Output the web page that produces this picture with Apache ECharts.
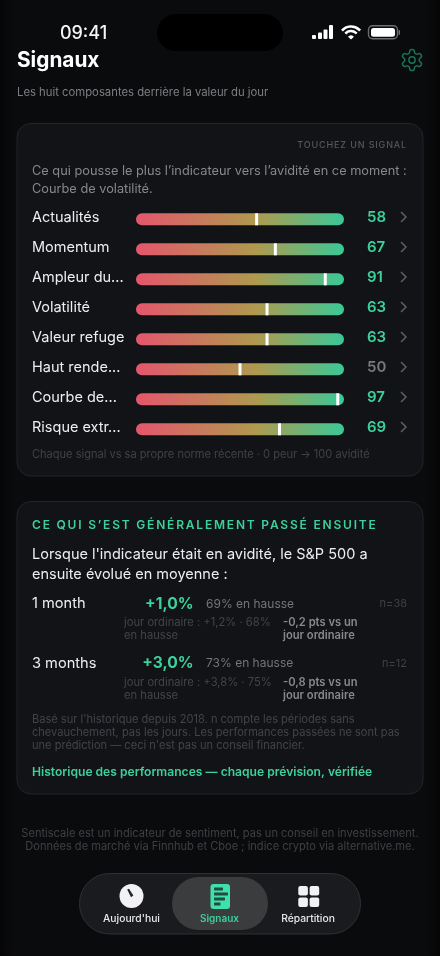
<!DOCTYPE html>
<html lang="fr">
<head>
<meta charset="utf-8">
<title>Signaux</title>
<style>html,body{margin:0;padding:0;background:#0b0c0f}#c{width:440px;height:956px}</style>
<script src="https://cdn.jsdelivr.net/npm/echarts@6/dist/echarts.min.js"></script>
</head>
<body>
<div id="c"></div>
<script>
// ---- data ----
const signalNames = ['Actualités','Momentum','Ampleur du...','Volatilité','Valeur refuge','Haut rende...','Courbe de...','Risque extr...'];
const signalValues = [58,67,91,63,63,50,97,69];
const scaleFull = [100,100,100,100,100,100,100,100];
const horizons = ['1 month','3 months'];
const avgReturns = ['+1,0%','+3,0%'];
const upShares = ['69% en hausse','73% en hausse'];
const sampleSizes = ['n=38','n=12'];
const ordinaryDays = ['jour ordinaire : +1,2% · 68%','jour ordinaire : +3,8% · 75%'];
const deltas = ['-0,2 pts vs un','-0,8 pts vs un'];

const GREEN = '#3dd09b';
const FONT = 'Inter, "Noto Sans", sans-serif';

// letter-spaced captions (canvas property, not supported by the text style)
const spaced = {'TOUCHEZ UN SIGNAL':'0.85px','CE QUI S’EST GÉNÉRALEMENT PASSÉ ENSUITE':'1.8px'};
const ft = CanvasRenderingContext2D.prototype.fillText;
CanvasRenderingContext2D.prototype.fillText = function(t,x,y,m){
  const s = spaced[t];
  if(s){ this.letterSpacing = s; ft.call(this,t,x,y); this.letterSpacing='0px'; return; }
  return m===undefined ? ft.call(this,t,x,y) : ft.call(this,t,x,y,m);
};

function T(text,x,y,size,fill,weight,align){
  return {type:'text',z:1,silent:true,style:{text,x,y:y+1,fill,align:align||'left',verticalAlign:'middle',
    textAlign:align||'left',textVerticalAlign:'middle',
    font:(weight||400)+' '+size+'px '+FONT}};
}
function R(x,y,w,h,r,fill,stroke,z){
  return {type:'rect',z:z===undefined?0:z,silent:true,shape:{x,y,width:w,height:h,r},style:{fill,stroke:stroke||null,lineWidth:stroke?1:0}};
}
echarts.graphic.registerShape('gearIcon', echarts.graphic.extendPath(
 'M12.22 2h-.44a2 2 0 0 0-2 2v.18a2 2 0 0 1-1 1.73l-.43.25a2 2 0 0 1-2 0l-.15-.08a2 2 0 0 0-2.73.73l-.22.38a2 2 0 0 0 .73 2.73l.15.1a2 2 0 0 1 1 1.72v.51a2 2 0 0 1-1 1.74l-.15.09a2 2 0 0 0-.73 2.73l.22.38a2 2 0 0 0 2.73.73l.15-.08a2 2 0 0 1 2 0l.43.25a2 2 0 0 1 1 1.73V20a2 2 0 0 0 2 2h.44a2 2 0 0 0 2-2v-.18a2 2 0 0 1 1-1.73l.43-.25a2 2 0 0 1 2 0l.15.08a2 2 0 0 0 2.73-.73l.22-.39a2 2 0 0 0-.73-2.73l-.15-.08a2 2 0 0 1-1-1.74v-.5a2 2 0 0 1 1-1.74l.15-.09a2 2 0 0 0 .73-2.73l-.22-.38a2 2 0 0 0-2.73-.73l-.15.08a2 2 0 0 1-2 0l-.43-.25a2 2 0 0 1-1-1.73V4a2 2 0 0 0-2-2zM15 12a3 3 0 1 1-6 0a3 3 0 1 1 6 0z', {}));

const g = [];
// page background with darker side edges
g.push({type:'rect',z:-1,silent:true,shape:{x:0,y:0,width:440,height:956},style:{fill:new echarts.graphic.LinearGradient(0,0,1,0,[
  {offset:0,color:'#050506'},{offset:.03,color:'#0a0b0d'},{offset:.97,color:'#0a0b0d'},{offset:1,color:'#050506'}])}});

// status bar
g.push(T('09:41',83.5,32.5,18,'#f5f5f5',500,'center'));
g.push(R(157,14,126,37,18.5,'#000000'));
[[312,4],[318,6.5],[323.5,9.5],[329,14]].forEach(b=>g.push(R(b[0],39-b[1],4,b[1],1,'#ffffff')));
g.push({type:'arc',z:1,silent:true,shape:{cx:351,cy:38.5,r:12,startAngle:-Math.PI*0.77,endAngle:-Math.PI*0.23},style:{stroke:'#fff',lineWidth:2.6,fill:null}});
g.push({type:'arc',z:1,silent:true,shape:{cx:351,cy:38.5,r:7.5,startAngle:-Math.PI*0.77,endAngle:-Math.PI*0.23},style:{stroke:'#fff',lineWidth:2.6,fill:null}});
g.push({type:'sector',z:1,silent:true,shape:{cx:351,cy:39.5,r:4,r0:0,startAngle:-Math.PI*0.77,endAngle:-Math.PI*0.23},style:{fill:'#fff'}});
g.push({type:'rect',z:1,silent:true,shape:{x:368.5,y:25.8,width:29,height:13,r:4},style:{fill:null,stroke:'#6d6e70',lineWidth:1.4}});
g.push(R(371,28,24,8.8,2.5,'#ffffff',null,1));
g.push(R(398.6,30,1.4,5,.7,'#6d6e70',null,1));

// header
g.push(T('Signaux',17,60,20.8,'#ffffff',700));
g.push(T('Les huit composantes derrière la valeur du jour',17,91.5,11.3,'#7d7f84',400));
g.push({type:'gearIcon',z:1,silent:true,x:399.4,y:47.4,scaleX:1.05,scaleY:1.05,style:{fill:null,stroke:'#1c7257',lineWidth:1.4}});

// card 1
g.push(R(17,123.5,406,352.5,14,'#121317','#23252a'));
g.push(T('TOUCHEZ UN SIGNAL',407,144,9,'#55575c',500,'right'));
g.push(T('Ce qui pousse le plus l’indicateur vers l’avidité en ce moment :',32,170,12.78,'#86888c'));
g.push(T('Courbe de volatilité.',32,188,12.78,'#86888c'));
g.push(T('Chaque signal vs sa propre norme récente · 0 peur → 100 avidité',32,454,11.05,'#404246'));
// chevrons
for(let i=0;i<signalNames.length;i++){
  const yc=217+30*i;
  g.push({type:'polyline',z:1,silent:true,shape:{points:[[401,yc-5],[406,yc],[401,yc+5]]},style:{fill:null,stroke:'#5c5e62',lineWidth:1.5}});
}

// card 2
g.push(R(17,501.5,406,292.5,14,'#121317','#23252a'));
g.push(T('CE QUI S’EST GÉNÉRALEMENT PASSÉ ENSUITE',32,524,12,GREEN,600));
g.push(T('Lorsque l\'indicateur était en avidité, le S&P 500 a',32,554,14.5,'#eeeeee'));
g.push(T('ensuite évolué en moyenne :',32,574,14.5,'#eeeeee'));
horizons.forEach((h,i)=>{
  const o=59.3*i;
  g.push(T(h,32,603+o,14.6,'#eeeeee'));
  g.push(T(avgReturns[i],193.5,603+o,15.6,GREEN,700,'right'));
  g.push(T(upShares[i],206,603+o,12,'#737578'));
  g.push(T(sampleSizes[i],407,603+o,11,'#3e4044',400,'right'));
  g.push(T(ordinaryDays[i],124,622+o,11.2,'#424448'));
  g.push(T('en hausse',124,635+o,11.2,'#424448'));
  g.push(T(deltas[i],283,622+o,11.2,'#86888c',600));
  g.push(T('jour ordinaire',283,635+o,11.2,'#86888c',600));
});
g.push(T('Basé sur l\'historique depuis 2018. n compte les périodes sans',32,719,11.07,'#424448'));
g.push(T('chevauchement, pas les jours. Les performances passées ne sont pas',32,732,11.07,'#424448'));
g.push(T('une prédiction — ceci n\'est pas un conseil financier.',32,745,11.07,'#424448'));
g.push(T('Historique des performances — chaque prévision, vérifiée',32,771,12.1,GREEN,600));

// footer
g.push(T('Sentiscale est un indicateur de sentiment, pas un conseil en investissement.',220,833,11.07,'#3e4044',400,'center'));
g.push(T('Données de marché via Finnhub et Cboe ; indice crypto via alternative.me.',220,846,11.07,'#3e4044',400,'center'));

// tab bar
g.push(R(79.5,873.5,281,60.5,30,'#1a1b1e','#2f3033'));
g.push(R(172,877,96,53,26.5,'#3b3c3e',null,0));
g.push({type:'circle',z:1,silent:true,shape:{cx:131.5,cy:896,r:12},style:{fill:'#f2f2f4'}});
g.push({type:'polygon',z:1,silent:true,shape:{points:[[127.2,889.6],[129,888.8],[133.4,895.6],[131,897.2]]},style:{fill:'#24252a'}});
g.push(R(210.5,884,19.5,25,3,'#3fe0aa',null,1));
[[889,9],[894,14],[899,11],[904,6.5]].forEach(b=>g.push(R(214,b[0]-1.4,b[1],2.8,.6,'#1f4d40',null,2)));
[[298.3,886],[309.6,886],[298.3,897.4],[309.6,897.4]].forEach(b=>g.push(R(b[0],b[1],9.6,9.6,2,'#f2f2f4',null,1)));
g.push(T('Aujourd\'hui',131.5,917.5,10.3,'#e8e8e8',500,'center'));
g.push(T('Signaux',219.5,917.5,10,GREEN,600,'center'));
g.push(T('Répartition',308,917.5,10.3,'#e8e8e8',500,'center'));

const trackGradient = new echarts.graphic.LinearGradient(0,0,1,0,[
  {offset:0,color:'#e5566c'},{offset:.58,color:'#ae9a4f'},{offset:1,color:'#3bc897'}]);

const chart = echarts.init(document.getElementById('c'),null,{width:440,height:956,renderer:'canvas'});
chart.setOption({
  animation:false,
  backgroundColor:'#0b0c0f',
  textStyle:{fontFamily:FONT},
  grid:{left:136,width:208,top:204.3,height:240,containLabel:false},
  xAxis:{type:'value',min:0,max:100,show:false},
  yAxis:[
    {type:'category',data:signalNames,inverse:true,position:'left',z:5,
     axisLine:{show:false},axisTick:{show:false},splitLine:{show:false},
     axisLabel:{margin:104,align:'left',fontFamily:FONT,
       formatter:v=>'{a|'+v+'}',
       rich:{a:{fontSize:14.5,color:'#eeeeee',fontFamily:FONT,padding:[0,0,4,0]}}}},
    {type:'category',data:signalValues,inverse:true,position:'right',z:5,
     axisLine:{show:false},axisTick:{show:false},splitLine:{show:false},
     axisLabel:{margin:23,align:'left',fontFamily:FONT,
       formatter:v=>(+v===50?'{n|':'{g|')+v+'}',
       rich:{g:{fontSize:15,fontWeight:600,color:GREEN,fontFamily:FONT,padding:[0,0,4,0]},
             n:{fontSize:15,fontWeight:600,color:'#77797d',fontFamily:FONT,padding:[0,0,4,0]}}}}
  ],
  graphic:{elements:g},
  series:[
    {type:'bar',name:'Échelle',data:scaleFull,barWidth:12,silent:true,yAxisIndex:0,z:2,
     itemStyle:{color:trackGradient,borderRadius:6}},
    {type:'scatter',name:'Signal',data:signalValues.map((v,i)=>[v,i]),yAxisIndex:0,z:3,
     symbol:'rect',symbolSize:[3,12],itemStyle:{color:'#ffffff',opacity:1},silent:true}
  ]
});
</script>
</body>
</html>
